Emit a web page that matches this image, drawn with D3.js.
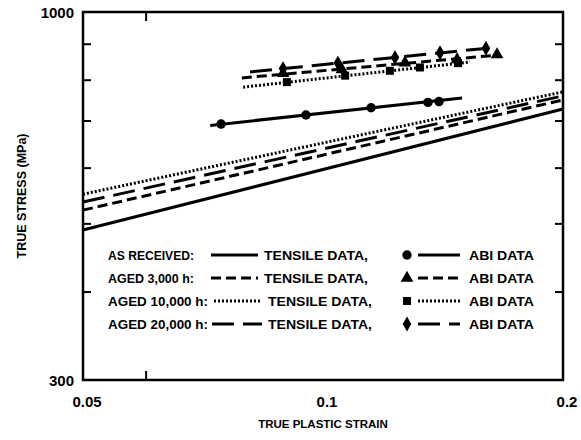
<!DOCTYPE html>
<html>
<head>
<meta charset="utf-8">
<script src="https://cdn.jsdelivr.net/npm/d3@7"></script>
<style>
  body { margin: 0; background: #fff; }
  text { font-family: "Liberation Sans", Arial, sans-serif; font-weight: bold; fill: #000; }
</style>
</head>
<body>
<script>
// axis ticks
const xLabels = [0.05, 0.1, 0.2];
const xMinor = [0.06];
const yLabels = [300, 1000];
const yMinor = [400, 500, 600, 700, 800, 900];

// tensile fits, strain 0.05 -> 0.2
const tensileStrain = [0.05, 0.2];
const tensileAsReceived = [490, 728];
const tensile3000 = [523, 750];
const tensile10000 = [551, 770];
const tensile20000 = [537, 760];

// ABI data points and fitted lines
const abiAsReceivedStrain = [0.0745, 0.0952, 0.1149, 0.1354, 0.1398];
const abiAsReceivedStress = [693, 714, 731, 744, 746];
const abiAsReceivedFitStrain = [0.0722, 0.1494];
const abiAsReceivedFitStress = [690, 755];

const abi3000Strain = [0.0891, 0.1056, 0.1267, 0.1473, 0.1653];
const abi3000Stress = [818, 828, 847, 856, 870];
const abi3000FitStrain = [0.0791, 0.1667];
const abi3000FitStress = [806, 869];

const abi10000Strain = [0.0901, 0.1066, 0.1213, 0.1323, 0.1477];
const abi10000Stress = [795, 812, 825, 834, 846];
const abi10000FitStrain = [0.0794, 0.1529];
const abi10000FitStress = [782, 849];

const abi20000Strain = [0.0891, 0.1044, 0.1231, 0.1402, 0.1601];
const abi20000Stress = [831, 846, 862, 875, 888];
const abi20000FitStrain = [0.0810, 0.1620];
const abi20000FitStress = [822, 889];

const legendLabels = ["AS RECEIVED:", "AGED 3,000 h:", "AGED 10,000 h:", "AGED 20,000 h:"];

const W = 581, H = 440;
const L = 83, R = 563, T = 12, B = 380;

const svg = d3.select("body").append("svg")
    .attr("width", W).attr("height", H);

const x = d3.scaleLog().domain([0.05, 0.2]).range([L, R]);
const y = d3.scaleLog().domain([300, 1000]).range([B, T]);

// dash styles per condition
const styles = [
    { dash: null, sym: d3.symbolCircle, size: 70 },
    { dash: "10,5", sym: d3.symbolTriangle, size: 70 },
    { dash: "2,2", sym: d3.symbolSquare, size: 64 },
    { dash: "22,9", sym: d3.symbolDiamond, size: 64 }
];

const tensile = [tensileAsReceived, tensile3000, tensile10000, tensile20000];
const abi = [
    [abiAsReceivedStrain, abiAsReceivedStress, abiAsReceivedFitStrain, abiAsReceivedFitStress],
    [abi3000Strain, abi3000Stress, abi3000FitStrain, abi3000FitStress],
    [abi10000Strain, abi10000Stress, abi10000FitStrain, abi10000FitStress],
    [abi20000Strain, abi20000Stress, abi20000FitStrain, abi20000FitStress]
];

const line = d3.line().x(d => x(d[0])).y(d => y(d[1]));

// tensile lines
tensile.forEach((s, i) => {
    svg.append("path")
        .attr("d", line(d3.zip(tensileStrain, s)))
        .attr("fill", "none")
        .attr("stroke", "#000")
        .attr("stroke-width", i == 0 ? 3.2 : 3)
        .attr("stroke-dasharray", styles[i].dash);
});

// ABI fits + markers
abi.forEach((a, i) => {
    svg.append("path")
        .attr("d", line(d3.zip(a[2], a[3])))
        .attr("fill", "none")
        .attr("stroke", "#000")
        .attr("stroke-width", 3)
        .attr("stroke-dasharray", styles[i].dash);
    svg.selectAll(null)
        .data(d3.zip(a[0], a[1]))
        .enter().append("path")
        .attr("d", d3.symbol().type(styles[i].sym).size(styles[i].size))
        .attr("transform", d => `translate(${x(d[0])},${y(d[1])})`)
        .attr("fill", "#000");
});

// frame
svg.append("rect")
    .attr("x", L).attr("y", T)
    .attr("width", R - L).attr("height", B - T)
    .attr("fill", "none")
    .attr("stroke", "#000")
    .attr("stroke-width", 2.5);

// inward ticks
xMinor.forEach(v => {
    svg.append("line").attr("x1", x(v)).attr("x2", x(v)).attr("y1", B).attr("y2", B - 9)
        .attr("stroke", "#000").attr("stroke-width", 2);
    svg.append("line").attr("x1", x(v)).attr("x2", x(v)).attr("y1", T).attr("y2", T + 9)
        .attr("stroke", "#000").attr("stroke-width", 2);
});
yMinor.forEach(v => {
    svg.append("line").attr("x1", L).attr("x2", L + 8).attr("y1", y(v)).attr("y2", y(v))
        .attr("stroke", "#000").attr("stroke-width", 2);
    svg.append("line").attr("x1", R).attr("x2", R - 8).attr("y1", y(v)).attr("y2", y(v))
        .attr("stroke", "#000").attr("stroke-width", 2);
});

// tick labels
svg.selectAll(".xl")
    .data(xLabels)
    .enter().append("text")
    .attr("x", d => x(d) + 4)
    .attr("y", 407)
    .attr("text-anchor", "middle")
    .attr("font-size", 15)
    .text(d => d);

svg.selectAll(".yl")
    .data(yLabels)
    .enter().append("text")
    .attr("x", 74)
    .attr("y", d => y(d) + 6)
    .attr("text-anchor", "end")
    .attr("font-size", 15)
    .text(d => d);

// axis titles
svg.append("text")
    .attr("x", 323).attr("y", 428)
    .attr("text-anchor", "middle")
    .attr("font-size", 11.5)
    .text("TRUE PLASTIC STRAIN");

svg.append("text")
    .attr("transform", "translate(26,196) rotate(-90)")
    .attr("text-anchor", "middle")
    .attr("font-size", 12.5)
    .text("TRUE STRESS (MPa)");

// legend
const rowY = [255, 278, 301, 324];
const labelW = [86, 86, 100, 100];
const lineX = [[211, 258], [211, 258], [214, 262], [212, 262]];
const tensileX = [264, 264, 268, 268];
const leg = svg.append("g").attr("font-size", 13.5);
legendLabels.forEach((lab, i) => {
    const yy = rowY[i];
    leg.append("text").attr("x", 108).attr("y", yy + 5)
        .attr("textLength", labelW[i]).attr("lengthAdjust", "spacingAndGlyphs").text(lab);
    leg.append("line").attr("x1", lineX[i][0]).attr("x2", lineX[i][1]).attr("y1", yy).attr("y2", yy)
        .attr("stroke", "#000").attr("stroke-width", 3)
        .attr("stroke-dasharray", styles[i].dash);
    leg.append("text").attr("x", tensileX[i]).attr("y", yy + 5)
        .attr("textLength", 104).attr("lengthAdjust", "spacingAndGlyphs").text("TENSILE DATA,");
    leg.append("path")
        .attr("d", d3.symbol().type(styles[i].sym).size(styles[i].size)())
        .attr("transform", `translate(${407},${yy})`);
    leg.append("line").attr("x1", 418).attr("x2", 460).attr("y1", yy).attr("y2", yy)
        .attr("stroke", "#000").attr("stroke-width", 3)
        .attr("stroke-dasharray", styles[i].dash);
    leg.append("text").attr("x", 469).attr("y", yy + 5)
        .attr("textLength", 65).attr("lengthAdjust", "spacingAndGlyphs").text("ABI DATA");
});
</script>
</body>
</html>
